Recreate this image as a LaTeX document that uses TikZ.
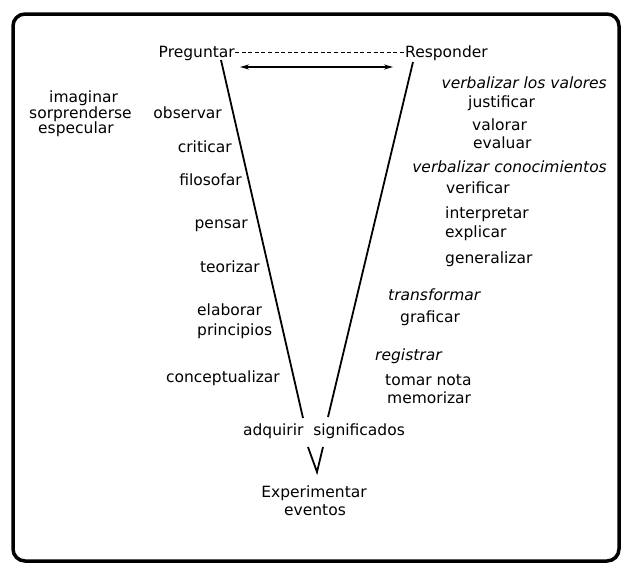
\documentclass[tikz,border=0pt]{standalone}
\usepackage{fontspec}
\setmainfont{DejaVu Sans}
\usetikzlibrary{arrows.meta}
\begin{document}
\begin{tikzpicture}[x=1pt,y=-1pt,
  lbl/.style={inner sep=0pt,font=\fontsize{15.5}{16}\selectfont},
  ilbl/.style={lbl,font=\fontsize{15.5}{16}\selectfont\itshape},
  vline/.style={line width=1.8pt},
  frame/.style={line width=3.5pt,rounded corners=12pt}]
\useasboundingbox (0,0) rectangle (622,565);
\draw[frame] (13,14) rectangle (619,561);

% top
\node[lbl,anchor=base east] (preg) at (235,57) {Preguntar};
\node[lbl,anchor=base west] (resp) at (405,57) {Responder};
\draw[line width=0.9pt,dash pattern=on 4pt off 2.6pt] (preg.east) ++(0,-1) coordinate (d1) -- (d1 -| resp.west);
\coordinate (a1) at (240,67);
\coordinate (a2) at (393,67);
\draw[line width=1.5pt,{Stealth[length=9pt,width=5pt]}-{Stealth[length=9pt,width=5pt]}] (a1) -- (a2);

% V
\coordinate (L1) at (221,60);
\coordinate (L2) at (303,418);
\coordinate (R1) at (413,62);
\coordinate (R2) at (328,417);
\draw[vline] (L1) -- (L2);
\draw[vline] (R1) -- (R2);
\coordinate (v1) at (308,447);
\coordinate (v2) at (317,472);
\coordinate (v3) at (323,447);
\draw[vline] (v1) -- (v2) -- (v3);

% far left
\node[lbl,anchor=base west] (imag) at (49,102) {imaginar};
\node[lbl,anchor=base west] (sorp) at (29,118) {sorprenderse};
\node[lbl,anchor=base west] (espe) at (38,133) {especular};

% left of V
\node[lbl,anchor=base east] (obse) at (222,118) {observar};
\node[lbl,anchor=base east] (crit) at (232,152) {criticar};
\node[lbl,anchor=base east] (filo) at (242,185) {filosofar};
\node[lbl,anchor=base east] (pens) at (248,228) {pensar};
\node[lbl,anchor=base east] (teor) at (260,272) {teorizar};
\node[lbl,anchor=base west] (elab) at (197,315) {elaborar};
\node[lbl,anchor=base west] (prin) at (197,335) {principios};
\node[lbl,anchor=base east] (conc) at (280,382) {conceptualizar};

% right of V
\node[ilbl,anchor=base east] (vval) at (607,88) {verbalizar los valores};
\node[lbl,anchor=base west] (just) at (468,107) {justificar};
\node[lbl,anchor=base west] (valo) at (472,130) {valorar};
\node[lbl,anchor=base west] (eval) at (473,148) {evaluar};
\node[ilbl,anchor=base east] (vcon) at (607,172) {verbalizar conocimientos};
\node[lbl,anchor=base west] (veri) at (446,193) {verificar};
\node[lbl,anchor=base west] (inte) at (445,218) {interpretar};
\node[lbl,anchor=base west] (expl) at (445,237) {explicar};
\node[lbl,anchor=base west] (gene) at (445,263) {generalizar};
\node[ilbl,anchor=base west] (tran) at (388,300) {transformar};
\node[lbl,anchor=base west] (graf) at (400,322) {graficar};
\node[ilbl,anchor=base west] (regi) at (375,360) {registrar};
\node[lbl,anchor=base west] (toma) at (385,385) {tomar nota};
\node[lbl,anchor=base west] (memo) at (387,403) {memorizar};

% bottom
\node[lbl,anchor=base] (adqu) at (324,435) {adquirir\ \ significados};
\node[lbl,anchor=base] (expe) at (314,497) {Experimentar};
\node[lbl,anchor=base] (even) at (315,515) {eventos};
\end{tikzpicture}
\end{document}
